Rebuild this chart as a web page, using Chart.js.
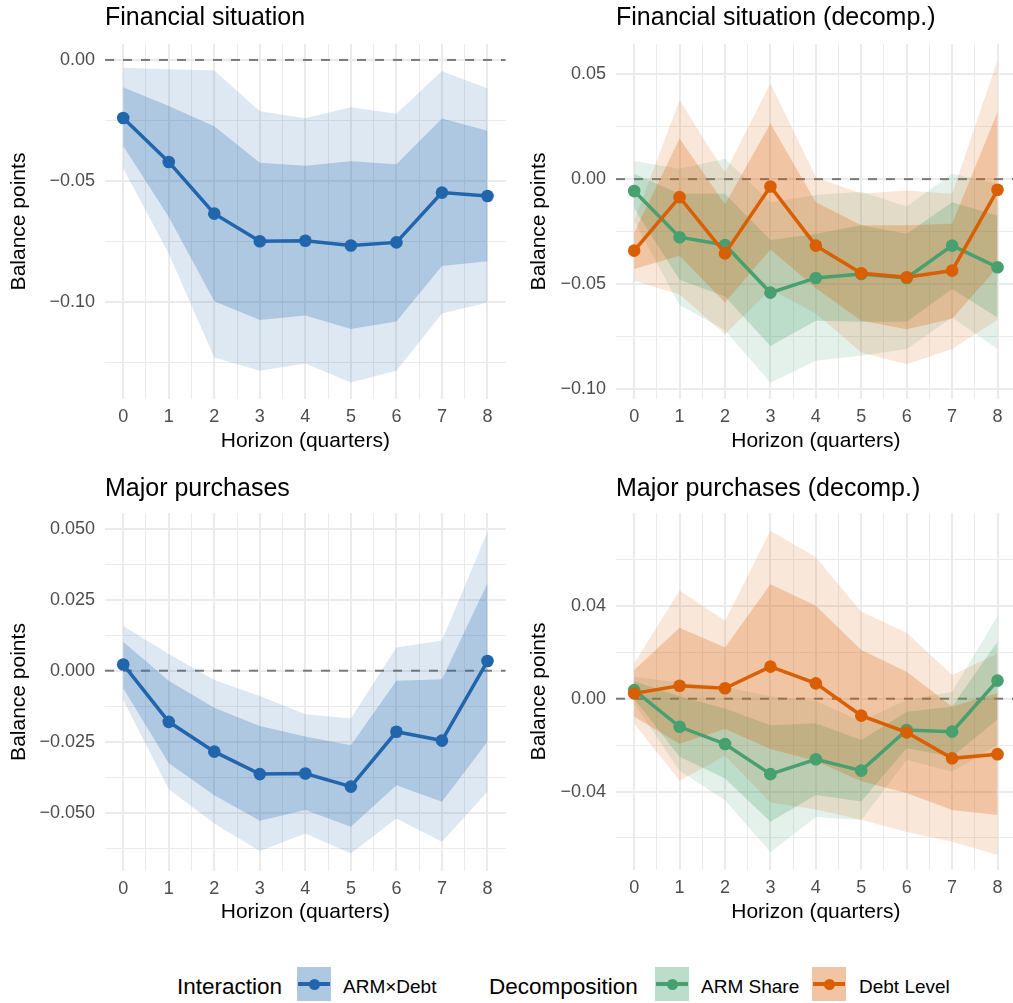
<!DOCTYPE html>
<html>
<head>
<meta charset="utf-8">
<script src="https://cdn.jsdelivr.net/npm/chart.js@4.4.1/dist/chart.umd.min.js"></script>
<style>
  html, body { margin: 0; padding: 0; background: #fff; width: 1013px; height: 1003px; overflow: hidden; position: relative;
    font-family: "Liberation Sans", Arial, sans-serif; }
  canvas { position: absolute; }
  .leg-title { position: absolute; top: 970px; height: 34px; display: flex; align-items: center; font-size: 22.5px; color: #000; white-space: nowrap; }
  .leg-text { position: absolute; top: 970px; height: 34px; display: flex; align-items: center; font-size: 19px; color: #000; white-space: nowrap; }
  .key { position: absolute; top: 967px; width: 34px; height: 34px; }
  .key .ln { position: absolute; left: 1px; top: 15px; width: 32px; height: 4px; }
  .key .pt { position: absolute; left: 11.5px; top: 11.5px; width: 11px; height: 11px; border-radius: 50%; }
</style>
</head>
<body>
<canvas id="finInt" width="512" height="460" style="left:0;top:0"></canvas>
<canvas id="finDec" width="512" height="460" style="left:510px;top:0"></canvas>
<canvas id="majInt" width="512" height="462" style="left:0;top:469px"></canvas>
<canvas id="majDec" width="512" height="462" style="left:510px;top:469px"></canvas>

<div class="leg-title" style="left:177px">Interaction</div>
<div class="key" style="left:297px;background:rgba(33,102,172,0.36)"><div class="ln" style="background:#2166AC"></div><div class="pt" style="background:#2166AC"></div></div>
<div class="leg-text" style="left:343px">ARM×Debt</div>
<div class="leg-title" style="left:489px">Decomposition</div>
<div class="key" style="left:655px;background:rgba(71,160,111,0.36)"><div class="ln" style="background:#47A06F"></div><div class="pt" style="background:#47A06F"></div></div>
<div class="leg-text" style="left:701px">ARM Share</div>
<div class="key" style="left:812px;background:rgba(217,95,2,0.36)"><div class="ln" style="background:#D95F02"></div><div class="pt" style="background:#D95F02"></div></div>
<div class="leg-text" style="left:859px">Debt Level</div>

<script>
// horizons (quarters) and axis ticks
const horizons = [0, 1, 2, 3, 4, 5, 6, 7, 8];
const xTickLabels = ['0', '1', '2', '3', '4', '5', '6', '7', '8'];
const xMinor = [0.5, 1.5, 2.5, 3.5, 4.5, 5.5, 6.5, 7.5];

const finTicks = [-0.10, -0.05, 0.00];
const finTickLabels = ['\u22120.10', '\u22120.05', '0.00'];
const finMinor = [-0.125, -0.075, -0.025];

const finDecTicks = [-0.10, -0.05, 0.00, 0.05];
const finDecTickLabels = ['\u22120.10', '\u22120.05', '0.00', '0.05'];
const finDecMinor = [-0.075, -0.025, 0.025];

const majTicks = [-0.050, -0.025, 0.000, 0.025, 0.050];
const majTickLabels = ['\u22120.050', '\u22120.025', '0.000', '0.025', '0.050'];
const majMinor = [-0.0625, -0.0375, -0.0125, 0.0125, 0.0375];

const majDecTicks = [-0.04, 0.00, 0.04];
const majDecTickLabels = ['\u22120.04', '0.00', '0.04'];
const majDecMinor = [-0.06, -0.02, 0.02, 0.06];

// Financial situation: ARM x Debt interaction
const finEst  = [-0.0240, -0.0422, -0.0636, -0.0750, -0.0748, -0.0768, -0.0755, -0.0549, -0.0563];
const finHi68 = [-0.0113, -0.0191, -0.0274, -0.0425, -0.0438, -0.0419, -0.0432, -0.0242, -0.0293];
const finLo68 = [-0.0356, -0.0650, -0.0999, -0.1076, -0.1057, -0.1113, -0.1082, -0.0853, -0.0833];
const finHi90 = [-0.0032, -0.0039, -0.0044, -0.0212, -0.0241, -0.0196, -0.0223, -0.0046, -0.0118];
const finLo90 = [-0.0449, -0.0802, -0.1231, -0.1286, -0.1256, -0.1335, -0.1286, -0.1049, -0.1004];

// Financial situation: decomposition
const finArmEst  = [-0.0057, -0.0277, -0.0314, -0.0541, -0.0471, -0.0452, -0.0471, -0.0317, -0.0420];
const finArmHi90 = [0.0086, 0.0050, 0.0097, -0.0110, -0.0076, -0.0060, -0.0130, 0.0026, -0.0022];
const finArmHi68 = [0.0026, -0.0070, -0.0070, -0.0290, -0.0260, -0.0220, -0.0260, -0.0110, -0.0173];
const finArmLo68 = [-0.0140, -0.0480, -0.0560, -0.0795, -0.0675, -0.0680, -0.0680, -0.0524, -0.0660];
const finArmLo90 = [-0.0200, -0.0600, -0.0720, -0.0970, -0.0866, -0.0842, -0.0810, -0.0660, -0.0810];

const finDebtEst  = [-0.0341, -0.0086, -0.0354, -0.0035, -0.0317, -0.0449, -0.0468, -0.0436, -0.0051];
const finDebtHi90 = [-0.0198, 0.0376, 0.0030, 0.0456, 0.0010, -0.0070, -0.0054, -0.0070, 0.0567];
const finDebtHi68 = [-0.0254, 0.0193, -0.0120, 0.0265, -0.0110, -0.0220, -0.0220, -0.0213, 0.0320];
const finDebtLo68 = [-0.0428, -0.0365, -0.0588, -0.0335, -0.0520, -0.0675, -0.0715, -0.0665, -0.0420];
const finDebtLo90 = [-0.0484, -0.0550, -0.0739, -0.0526, -0.0640, -0.0826, -0.0882, -0.0810, -0.0670];

// Major purchases: ARM x Debt interaction
const majEst  = [0.0022, -0.0180, -0.0285, -0.0364, -0.0362, -0.0408, -0.0215, -0.0246, 0.0034];
const majHi68 = [0.0102, -0.0035, -0.0130, -0.0195, -0.0232, -0.0262, -0.0035, -0.0030, 0.0308];
const majLo68 = [-0.0062, -0.0326, -0.0438, -0.0528, -0.0490, -0.0549, -0.0403, -0.0461, -0.0250];
const majHi90 = [0.0157, 0.0059, -0.0033, -0.0089, -0.0153, -0.0168, 0.0082, 0.0106, 0.0489];
const majLo90 = [-0.0103, -0.0417, -0.0538, -0.0635, -0.0573, -0.0643, -0.0520, -0.0602, -0.0426];

// Major purchases: decomposition
const majArmEst  = [0.0037, -0.0121, -0.0195, -0.0325, -0.0261, -0.0310, -0.0135, -0.0142, 0.0078];
const majArmHi90 = [0.0095, 0.0070, 0.0052, 0.0010, -0.0010, -0.0097, -0.0006, 0.0030, 0.0356];
const majArmHi68 = [0.0075, 0.0010, -0.0042, -0.0114, -0.0106, -0.0178, -0.0056, -0.0034, 0.0246];
const majArmLo68 = [0.0000, -0.0250, -0.0344, -0.0530, -0.0415, -0.0443, -0.0214, -0.0250, -0.0090];
const majArmLo90 = [-0.0021, -0.0310, -0.0437, -0.0660, -0.0510, -0.0523, -0.0264, -0.0315, -0.0200];

const majDebtEst  = [0.0023, 0.0056, 0.0045, 0.0138, 0.0066, -0.0073, -0.0145, -0.0257, -0.0239];
const majDebtHi90 = [0.0152, 0.0466, 0.0336, 0.0723, 0.0609, 0.0375, 0.0284, 0.0102, 0.0195];
const majDebtHi68 = [0.0124, 0.0306, 0.0221, 0.0493, 0.0400, 0.0210, 0.0116, -0.0034, 0.0023];
const majDebtLo68 = [-0.0078, -0.0194, -0.0131, -0.0217, -0.0268, -0.0356, -0.0406, -0.0480, -0.0501];
const majDebtLo90 = [-0.0107, -0.0354, -0.0246, -0.0447, -0.0477, -0.0521, -0.0574, -0.0616, -0.0673];

const BLUE = '#2166AC', BLUE_RGB = '33,102,172';
const GREEN = '#47A06F', GREEN_RGB = '71,160,111';
const ORANGE = '#D95F02', ORANGE_RGB = '217,95,2';
const X_MIN = -0.4, X_MAX = 8.4;

Chart.defaults.font.family = '"Liberation Sans", Arial, sans-serif';

function pts(values) {
    return horizons.map((h, i) => ({ x: h, y: values[i] }));
}

function band(hi, lo, rgb, alpha, order) {
    return [
        { data: pts(hi), borderWidth: 0, borderColor: 'transparent', pointRadius: 0, fill: false, order: order },
        { data: pts(lo), borderWidth: 0, borderColor: 'transparent', pointRadius: 0, fill: '-1',
          backgroundColor: 'rgba(' + rgb + ',' + alpha + ')', order: order }
    ];
}

function estimate(values, color, order) {
    return {
        data: pts(values), borderColor: color, borderWidth: 3.5, fill: false,
        pointRadius: 6.3, pointHoverRadius: 6.3, pointBackgroundColor: color, pointBorderWidth: 0,
        order: order
    };
}

function zeroLine() {
    return {
        data: [{ x: X_MIN, y: 0 }, { x: X_MAX, y: 0 }],
        borderColor: '#7A7A7A', borderWidth: 2, borderDash: [9, 9], pointRadius: 0, fill: false, order: 100
    };
}

const near = (a, b) => Math.abs(a - b) < 1e-9;

function drawPanel(id, g, title, yMin, yMax, ticks, labels, minor, datasets) {
    const titlePlugin = {
        id: 'panelTitle',
        afterDraw(chart) {
            const ctx = chart.ctx;
            ctx.save();
            ctx.font = '25px "Liberation Sans", Arial, sans-serif';
            ctx.fillStyle = '#000';
            ctx.textBaseline = 'alphabetic';
            ctx.textAlign = 'left';
            ctx.fillText(title, chart.chartArea.left, g.titleBase);
            ctx.restore();
        }
    };

    new Chart(document.getElementById(id), {
        type: 'line',
        data: { datasets: datasets },
        options: {
            responsive: false,
            animation: false,
            events: [],
            layout: { padding: { left: 0, top: g.plotTop, right: g.w - g.plotRight, bottom: 0 } },
            plugins: { legend: { display: false }, tooltip: { enabled: false } },
            scales: {
                x: {
                    type: 'linear', min: X_MIN, max: X_MAX,
                    afterBuildTicks: ax => { ax.ticks = horizons.concat(xMinor).sort((a, b) => a - b).map(v => ({ value: v })); },
                    afterFit: s => { s.height = g.h - g.plotBottom; },
                    border: { display: false },
                    grid: {
                        drawTicks: false, color: '#EBEBEB',
                        lineWidth: c => (c.tick && Number.isInteger(c.tick.value)) ? 2 : 1
                    },
                    ticks: {
                        autoSkip: false, maxRotation: 0, padding: 7, color: '#4D4D4D', font: { size: 18 },
                        callback: v => { const i = horizons.indexOf(v); return i >= 0 ? xTickLabels[i] : ''; }
                    },
                    title: {
                        display: true, text: 'Horizon (quarters)', color: '#000', font: { size: 21 },
                        padding: { top: 0, bottom: g.h - g.xTitleMid - 12.6 }
                    }
                },
                y: {
                    min: yMin, max: yMax,
                    afterBuildTicks: ax => { ax.ticks = ticks.concat(minor).sort((a, b) => a - b).map(v => ({ value: v })); },
                    afterFit: s => { s.width = g.plotLeft; },
                    border: { display: false },
                    grid: {
                        drawTicks: false, color: '#EBEBEB',
                        lineWidth: c => (c.tick && ticks.some(t => near(t, c.tick.value))) ? 2 : 1
                    },
                    ticks: {
                        autoSkip: false, padding: 10, color: '#4D4D4D', font: { size: 18 },
                        callback: v => { const i = ticks.findIndex(t => near(t, v)); return i >= 0 ? labels[i] : ''; }
                    },
                    title: {
                        display: true, text: 'Balance points', color: '#000', font: { size: 21 },
                        padding: { top: g.yTitleMid - 12.6, bottom: 0 }
                    }
                }
            }
        },
        plugins: [titlePlugin]
    });
}

const leftTop  = { w: 512, h: 460, plotLeft: 105, plotRight: 508, plotTop: 44, plotBottom: 399, titleBase: 25, xTitleMid: 441, yTitleMid: 19.5 };
const rightTop = { w: 512, h: 460, plotLeft: 106, plotRight: 509, plotTop: 44, plotBottom: 399, titleBase: 25, xTitleMid: 441, yTitleMid: 29 };
const leftBot  = { w: 512, h: 462, plotLeft: 105, plotRight: 508, plotTop: 44, plotBottom: 402, titleBase: 27, xTitleMid: 443, yTitleMid: 19.5 };
const rightBot = { w: 512, h: 462, plotLeft: 106, plotRight: 509, plotTop: 44, plotBottom: 401, titleBase: 27, xTitleMid: 443, yTitleMid: 29 };

drawPanel('finInt', leftTop, 'Financial situation', -0.1403, 0.0066, finTicks, finTickLabels, finMinor, [
    zeroLine(),
    ...band(finHi90, finLo90, BLUE_RGB, 0.15, 60),
    ...band(finHi68, finLo68, BLUE_RGB, 0.25, 50),
    estimate(finEst, BLUE, 1)
]);

drawPanel('finDec', rightTop, 'Financial situation (decomp.)', -0.1048, 0.0644, finDecTicks, finDecTickLabels, finDecMinor, [
    zeroLine(),
    ...band(finArmHi90, finArmLo90, GREEN_RGB, 0.15, 61),
    ...band(finDebtHi90, finDebtLo90, ORANGE_RGB, 0.15, 60),
    ...band(finArmHi68, finArmLo68, GREEN_RGB, 0.25, 51),
    ...band(finDebtHi68, finDebtLo68, ORANGE_RGB, 0.25, 50),
    estimate(finArmEst, GREEN, 2),
    estimate(finDebtEst, ORANGE, 1)
]);

drawPanel('majInt', leftBot, 'Major purchases', -0.0705, 0.0555, majTicks, majTickLabels, majMinor, [
    zeroLine(),
    ...band(majHi90, majLo90, BLUE_RGB, 0.15, 60),
    ...band(majHi68, majLo68, BLUE_RGB, 0.25, 50),
    estimate(majEst, BLUE, 1)
]);

drawPanel('majDec', rightBot, 'Major purchases (decomp.)', -0.0738, 0.0800, majDecTicks, majDecTickLabels, majDecMinor, [
    zeroLine(),
    ...band(majArmHi90, majArmLo90, GREEN_RGB, 0.15, 61),
    ...band(majDebtHi90, majDebtLo90, ORANGE_RGB, 0.15, 60),
    ...band(majArmHi68, majArmLo68, GREEN_RGB, 0.25, 51),
    ...band(majDebtHi68, majDebtLo68, ORANGE_RGB, 0.25, 50),
    estimate(majArmEst, GREEN, 2),
    estimate(majDebtEst, ORANGE, 1)
]);
</script>
</body>
</html>
